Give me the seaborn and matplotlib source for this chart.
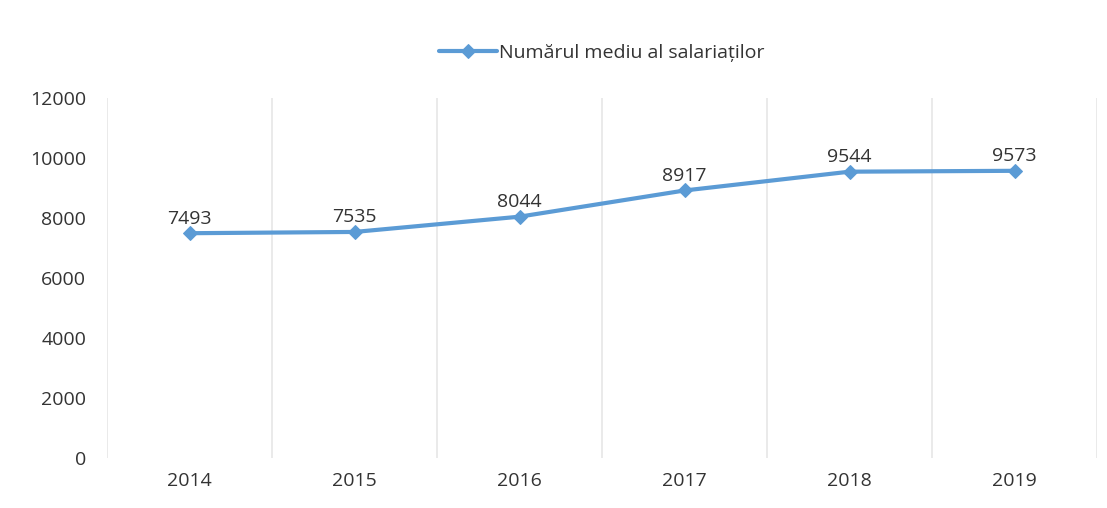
import matplotlib
matplotlib.use("Agg")
import matplotlib.pyplot as plt
import seaborn as sns
import pandas as pd

years = ["2014", "2015", "2016", "2017", "2018", "2019"]
values = [7493, 7535, 8044, 8917, 9544, 9573]
series_name = "Numărul mediu al salariaților"
yticks = [0, 2000, 4000, 6000, 8000, 10000, 12000]

sns.set_theme(style="white")
plt.rcParams['font.family'] = ['Open Sans', 'DejaVu Sans']

df = pd.DataFrame({"year": years, "value": values})
df["x"] = range(len(years))

W, H = 1107, 508
fig = plt.figure(figsize=(W / 100, H / 100), dpi=100)
ax = fig.add_axes([107 / W, (508 - 458) / H, (1097 - 107) / W, (458 - 98) / H])

color = "#5B9BD5"
sns.lineplot(data=df, x="x", y="value", ax=ax, color=color, linewidth=3,
             marker="D", markersize=7, markeredgecolor=color, label=series_name)

for xi, v in zip(df["x"], values):
    ax.annotate(f"{v}", (xi, v), xytext=(0, 4), textcoords="offset points",
                ha="center", va="bottom", fontsize=14, color="#333333")

ax.set_xlim(-0.5, len(years) - 0.5)
ax.set_ylim(0, 12000)
ax.set_yticks(yticks)
ax.set_yticklabels([str(t) for t in yticks], fontsize=14, color="#333333")
ax.set_xticks(range(len(years)))
ax.set_xticklabels(years, fontsize=14, color="#333333")
ax.tick_params(axis="y", length=0, pad=15)
ax.tick_params(axis="x", length=0, pad=10)

for b in [i - 0.5 for i in range(len(years) + 1)]:
    ax.axvline(b, color="#E6E6E6", linewidth=1.2, zorder=0)

for s in ax.spines.values():
    s.set_visible(False)
ax.set_xlabel("")
ax.set_ylabel("")

leg = ax.legend(loc="upper center", bbox_to_anchor=(0.5, 1.0 + 72 / 360), frameon=False,
                fontsize=14, handlelength=3.0, handletextpad=0.1, ncol=1)
for t in leg.get_texts():
    t.set_color("#333333")

fig.savefig("out.png", dpi=100, facecolor="white")
